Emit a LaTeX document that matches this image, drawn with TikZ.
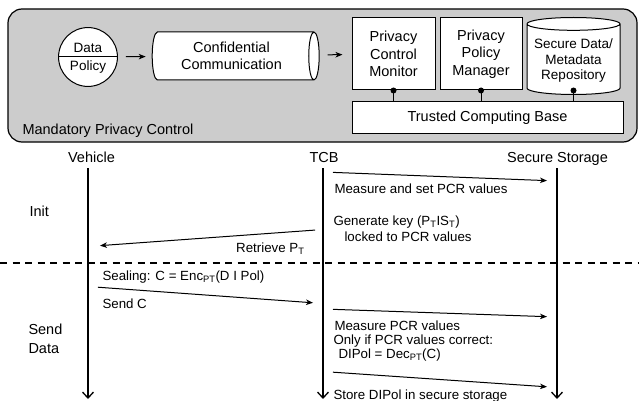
\documentclass[tikz,border=0pt]{standalone}
\usepackage{fontspec}
\setmainfont{Liberation Sans}
\usetikzlibrary{shapes.geometric,shapes.multipart,arrows.meta}

\begin{document}
\begin{tikzpicture}[x=1pt,y=-1pt,line width=1pt,
  big/.style={font=\fontsize{14.5}{17.5}\selectfont},
  small/.style={font=\fontsize{13.3}{16}\selectfont},
  box/.style={draw,fill=white,big,align=center,inner sep=0pt},
  msg/.style={-{Stealth[length=7pt,width=5.5pt,inset=2pt]},shorten <=10pt,shorten >=10pt},
  life/.style={line width=1.3pt,-{Straight Barb[length=6pt,width=11pt,line width=1.3pt]}},
  lbl/.style={small,anchor=base west,inner sep=0pt,align=left},
  pin/.style={circle,fill,inner sep=0pt,minimum size=6pt}]

\useasboundingbox (0,0) rectangle (639,401);

\draw[fill=gray!40,rounded corners=14pt,line width=1.2pt] (8,9) rectangle (637,142);
\node[big,anchor=base west,inner sep=0pt] (mpc) at (22,135) {Mandatory Privacy Control};

\node[circle split,draw,fill=white,inner sep=3.5pt,font=\fontsize{13.5}{15}\selectfont] (dp) at (88,57) {Data\nodepart{lower}Policy};
\node[cylinder,draw,fill=white,big,align=center,minimum width=48pt,minimum height=167pt,aspect=0.3] (conf) at (231.5,56) {Confidential\\Communication};
\node[box,minimum width=83pt,minimum height=72pt] (pcm) at (393.5,54) {Privacy\\Control\\Monitor};
\node[box,minimum width=82pt,minimum height=72pt] (ppm) at (481,54) {Privacy\\Policy\\Manager};
\node[cylinder,shape border rotate=90,draw,fill=white,align=center,font=\fontsize{13.5}{15.5}\selectfont,minimum width=93pt,minimum height=77pt,aspect=0.15,anchor=south] (repo) at (573.5,95) {Secure Data/\\Metadata\\Repository};
\node[box,minimum width=271pt,minimum height=31pt] (tcb) at (487.5,117.5) {Trusted Computing Base};

\draw[-{Stealth[length=7pt,width=5.5pt,inset=2pt]},shorten <=8pt,shorten >=6pt] (dp) -- (conf);
\draw[-{Stealth[length=7pt,width=5.5pt,inset=2pt]},shorten <=8pt,shorten >=9pt] (conf) -- (pcm);

\foreach \n in {pcm,ppm,repo} {
  \draw (\n.south |- pcm.south) -- (\n.south |- tcb.north);
  \node[pin] (\n-pin) at (\n.south |- pcm.south) {};
}

\node[big,anchor=base] (veh) at (91.5,162) {Vehicle};
\node[big,anchor=base] (tcbl) at (324,162) {TCB};
\node[big,anchor=base] (store) at (557.5,162) {Secure Storage};

\foreach \x/\n in {88/v,323/t,557/s} {
  \coordinate (\n-top) at (\x,168);
  \coordinate (\n-bot) at (\x,399);
  \draw[life] (\n-top) -- (\n-bot);
}

\node[big,anchor=base west,inner sep=0pt] (init) at (29,216.5) {Init};
\node[big,anchor=base west,inner sep=0pt,align=left,font=\fontsize{14.5}{19}\selectfont] (send) at (28,353.5) {Send\\Data};

\coordinate (dl) at (0,263);
\coordinate (dr) at (639,263);
\draw[line width=1.3pt,dash pattern=on 7pt off 5.5pt] (dl) -- (dr);

\coordinate (m1a) at (323,172);
\coordinate (m1b) at (557,181);
\draw[msg] (m1a) -- (m1b);
\node[lbl] (m1) at (334,193.5) {Measure and set PCR values};

\node[lbl] (gen) at (333,241) {Generate key (P\textsubscript{T}IS\textsubscript{T})\\\hspace*{11pt}locked to PCR values};
\coordinate (m2a) at (323,229.5);
\coordinate (m2b) at (88,246.5);
\draw[msg,shorten <=8pt,shorten >=12pt] (m2a) -- (m2b);
\node[small,anchor=base east,inner sep=0pt] (m2) at (305,252.5) {Retrieve P\textsubscript{T}};

\node[lbl] (seal) at (102,280) {Sealing: C = Enc\textsubscript{PT}(D I Pol)};
\coordinate (m3a) at (88,286.5);
\coordinate (m3b) at (323,303.5);
\draw[msg] (m3a) -- (m3b);
\node[lbl] (m3) at (102,308) {Send C};

\coordinate (m4a) at (323,309);
\coordinate (m4b) at (557,317);
\draw[msg] (m4a) -- (m4b);
\node[lbl] (m4) at (334,330) {Measure PCR values};

\node[lbl,font=\fontsize{13.3}{14}\selectfont] (chk) at (333,358) {Only if PCR values correct:\\\hspace*{5pt}DIPol = Dec\textsubscript{PT}(C)};
\coordinate (m5a) at (323,371.5);
\coordinate (m5b) at (557,387.5);
\draw[msg] (m5a) -- (m5b);
\node[lbl] (m5) at (333,399) {Store DIPol in secure storage};

\end{tikzpicture}
\end{document}
